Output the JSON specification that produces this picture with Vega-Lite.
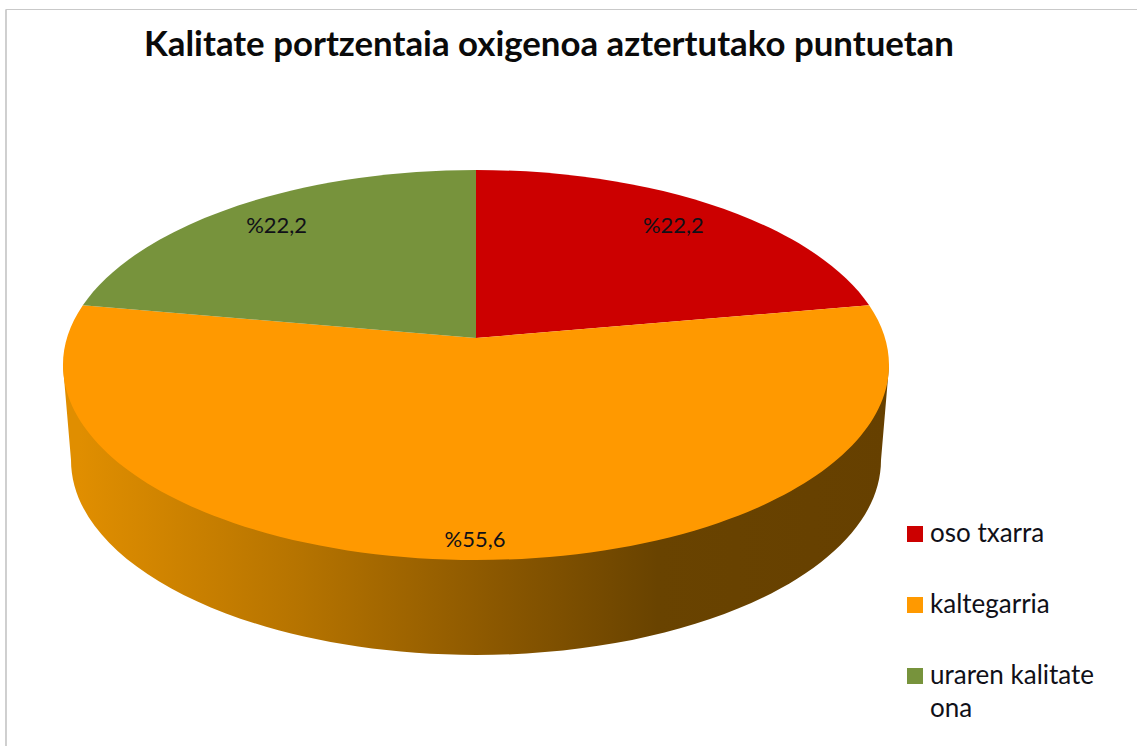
{
"$schema":"https://vega.github.io/schema/vega-lite/v6.json",
"width":952,"height":676,
"autosize":{"type":"none"},
"padding":{"left":0,"top":0,"right":185,"bottom":70},
"background":"#ffffff",
"view":{"stroke":null},
"config":{"style":{"guide-label":{"lineHeight":33}}},
"title":{"text":"Kalitate portzentaia oxigenoa aztertutako puntuetan","anchor":"start","frame":"group","orient":"top","baseline":"alphabetic","offset":-91,"dx":144,"font":"Lato","fontSize":34.8,"fontWeight":"bold","color":"#0a0a0a"},
"data":{"values":[
{"category":"oso txarra","value":22.2},
{"category":"kaltegarria","value":55.6},
{"category":"uraren kalitate ona","value":22.2}
]},
"transform":[
{"joinaggregate":[{"op":"sum","field":"value","as":"total"}]},
{"window":[{"op":"sum","field":"value","as":"cum"}]},
{"calculate":"2*PI*datum.cum/datum.total","as":"a1"},
{"calculate":"datum.a1-2*PI*datum.value/datum.total","as":"a0"},
{"calculate":"round(100*409*sin(datum.a0)/(1+0.1385*cos(datum.a0)))/100","as":"x0"},
{"calculate":"round(-100*191.3*cos(datum.a0)/(1+0.1385*cos(datum.a0)))/100","as":"y0"},
{"calculate":"round(100*409*sin(datum.a1)/(1+0.1385*cos(datum.a1)))/100","as":"x1"},
{"calculate":"round(-100*191.3*cos(datum.a1)/(1+0.1385*cos(datum.a1)))/100","as":"y1"},
{"calculate":"'M0,0L'+datum.x0+','+datum.y0+'A413,195,0,'+(datum.value/datum.total>0.5?1:0)+',1,'+datum.x1+','+datum.y1+'Z'","as":"slice"},
{"calculate":"(datum.a0+datum.a1)/2","as":"mid"},
{"calculate":"datum.value>50?0.92:0.83","as":"r"},
{"calculate":"475+405*datum.r*sin(datum.mid)/(1+0.1385*datum.r*cos(datum.mid))","as":"lx"},
{"calculate":"338-191.3*datum.r*cos(datum.mid)/(1+0.1385*datum.r*cos(datum.mid))","as":"ly"},
{"calculate":"'%'+replace(format(datum.value,'.1f'),'.',',')","as":"label"}
],
"layer":[
{"mark":{"type":"rule","stroke":"#c9c9c9","strokeWidth":1},"encoding":{"x":{"value":6},"y":{"value":9.5},"y2":{"value":746}}},
{"mark":{"type":"rule","stroke":"#c9c9c9","strokeWidth":1},"encoding":{"y":{"value":9.5},"x":{"value":6},"x2":{"value":1137}}},
{"transform":[{"filter":"datum.value>50"}],
"mark":{"type":"point","filled":true,"opacity":1,"size":4,"shape":"M-413,28L-405,122A405,195,0,0,0,405,122L413,28Z",
"fill":{"gradient":"linear","x1":0,"y1":0,"x2":1,"y2":0,"stops":[
{"offset":0.02,"color":"#e08e00"},{"offset":0.29,"color":"#b57300"},{"offset":0.53,"color":"#8a5700"},{"offset":0.72,"color":"#694300"},{"offset":1,"color":"#664000"}]}}},
{"mark":{"type":"point","filled":true,"opacity":1,"size":4},
"encoding":{
"shape":{"field":"slice","type":"nominal","scale":null,"legend":null},
"color":{"field":"category","type":"nominal","scale":{"domain":["oso txarra","kaltegarria","uraren kalitate ona"],"range":["#cc0000","#ff9900","#77933c"]},
"legend":{"title":null,"orient":"none","legendX":902,"legendY":521,"symbolType":"square","symbolSize":256,"symbolOpacity":1,"labelFont":"Lato","labelFontSize":26,"labelColor":"#101018","labelLimit":230,"labelOffset":2,"rowPadding":45,"labelExpr":"datum.label=='uraren kalitate ona'?['uraren kalitate','ona']:datum.label"}}}},
{"mark":{"type":"text","font":"Lato","fontSize":22,"color":"#101018","align":"center","baseline":"middle"},
"encoding":{"x":{"field":"lx","type":"quantitative","scale":null},"y":{"field":"ly","type":"quantitative","scale":null},"text":{"field":"label","type":"nominal"}}}
]
}
